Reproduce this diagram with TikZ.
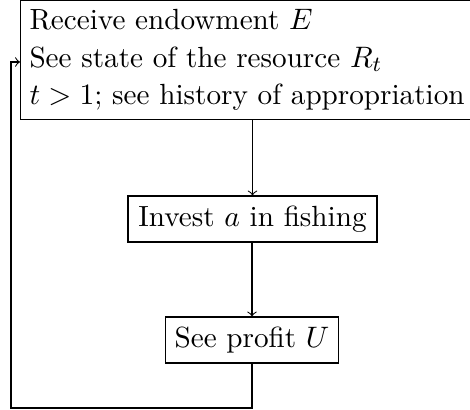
\documentclass[tikz,border=0pt]{standalone}
\usetikzlibrary{calc}
\begin{document}
\begin{tikzpicture}[x=0.3702pt,y=-0.3702pt,
  box/.style={draw,line width=0.4pt,inner sep=3.33pt,font=\fontsize{10.8}{13.8}\selectfont},
  conn/.style={->,line width=0.4pt}]
\useasboundingbox (0,0) rectangle (470,410);
\node[box,align=left,minimum width=443*0.3702pt,minimum height=118*0.3702pt,text width=436*0.3702pt] (top) at (247.5,60)
  {Receive endowment $E$\\See state of the resource $R_t$\\$t>1$; see history of appropriation};
\node[box,minimum width=249*0.3702pt,minimum height=46*0.3702pt] (mid) at (252.5,219) {Invest $a$ in fishing};
\node[box,minimum width=172*0.3702pt,minimum height=46*0.3702pt] (bot) at (252,340) {See profit $U$};
\coordinate (c1) at (252,408);
\coordinate (c2) at (11,408);
\coordinate (c3) at (11,62);
\draw[conn] (top.south -| mid.north) -- (mid.north);
\draw[conn] (mid.south -| bot.north) -- (bot.north);
\draw[conn] (bot.south) -- (c1) -- (c2) -- (c3) -- (c3 -| top.west);
\end{tikzpicture}
\end{document}
